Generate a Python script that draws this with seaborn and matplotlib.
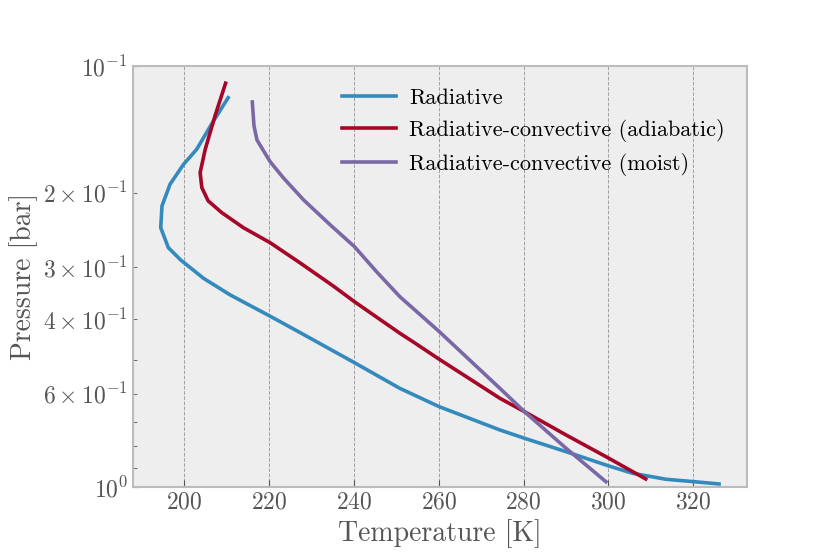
import matplotlib
matplotlib.use('Agg')
import seaborn as sns
import pandas as pd
import matplotlib.pyplot as plt

# temperature profiles
radT = [210.3, 206.6, 202.9, 199.8, 196.6, 194.7, 194.4, 196.2, 199.1, 204.5, 210.8, 220.1,
        227.3, 240.1, 250.8, 260.1, 274.4, 280.2, 290.0, 300.1, 305.7, 313.6, 320.1, 326.1]
radP = [0.1190, 0.1364, 0.1577, 0.1712, 0.1910, 0.2150, 0.2422, 0.2702, 0.2889, 0.3195, 0.3499, 0.3925,
        0.4300, 0.5068, 0.5831, 0.6447, 0.7322, 0.7661, 0.8244, 0.8915, 0.9279, 0.9588, 0.9714, 0.9838]

adiT = [209.7, 207.2, 204.9, 203.7, 204.1, 205.6, 208.8, 213.9, 220.2, 227.2, 235.1, 240.1,
        250.8, 253.9, 260.1, 274.4, 280.2, 290.0, 300.1, 308.8]
adiP = [0.1099, 0.1315, 0.1577, 0.1792, 0.1946, 0.2092, 0.2231, 0.2422, 0.2629, 0.2933, 0.3332, 0.3631,
        0.4314, 0.4520, 0.4974, 0.6157, 0.6625, 0.7524, 0.8547, 0.9572]

moiT = [216.0, 216.4, 217.1, 220.2, 223.4, 228.1, 234.4, 240.1, 245.3, 250.8, 260.1,
        274.4, 280.2, 290.0, 299.4]
moiP = [0.1218, 0.1388, 0.1499, 0.1688, 0.1848, 0.2081, 0.2386, 0.2687, 0.3081, 0.3532, 0.4276,
        0.5831, 0.6625, 0.8091, 0.9714]

labels = ["Radiative", "Radiative-convective (adiabatic)", "Radiative-convective (moist)"]
colors = ["#348ABD", "#A60628", "#7A68A6"]

plt.style.use('bmh')
plt.rcParams['font.family'] = ['cmr10']
plt.rcParams['mathtext.fontset'] = 'cm'
plt.rcParams['axes.formatter.use_mathtext'] = True
plt.rcParams['axes.unicode_minus'] = False

fig = plt.figure(figsize=(8.3, 5.54), dpi=100)
ax = fig.add_axes([0.160, 0.121, 0.740, 0.760])

profiles = [(radT, radP), (adiT, adiP), (moiT, moiP)]
for (T, p), lab, col in zip(profiles, labels, colors):
    df = pd.DataFrame({"T": T, "p": p})
    sns.lineplot(data=df, x="T", y="p", sort=False, estimator=None, color=col,
                 linewidth=2.6, label=lab, ax=ax)

ax.set_yscale('log')
ax.set_ylim(1, 0.1)
ax.margins(x=0.05)

ax.set_facecolor('#eeeeee')
ax.grid(axis='x', color='#a0a0a0', linestyle='--', linewidth=0.7)
ax.grid(axis='y', visible=False)
ax.grid(axis='y', which='minor', visible=False)
for s in ax.spines.values():
    s.set_color('#bcbcbc')
    s.set_linewidth(1.5)

ax.tick_params(axis='both', which='both', direction='in', colors='#555555',
               labelsize=17, top=False, right=False)
ax.tick_params(axis='both', which='major', length=5)
ax.tick_params(axis='y', which='minor', length=3)

ax.set_xlabel("Temperature [K]", fontsize=20, color='#555555')
ax.set_ylabel("Pressure [bar]", fontsize=20, color='#555555')

leg = ax.legend(loc='upper right', frameon=False, fontsize=16, handlelength=2.4,
                handletextpad=0.6, bbox_to_anchor=(0.996, 0.995))

fig.savefig("out.png", dpi=100)
